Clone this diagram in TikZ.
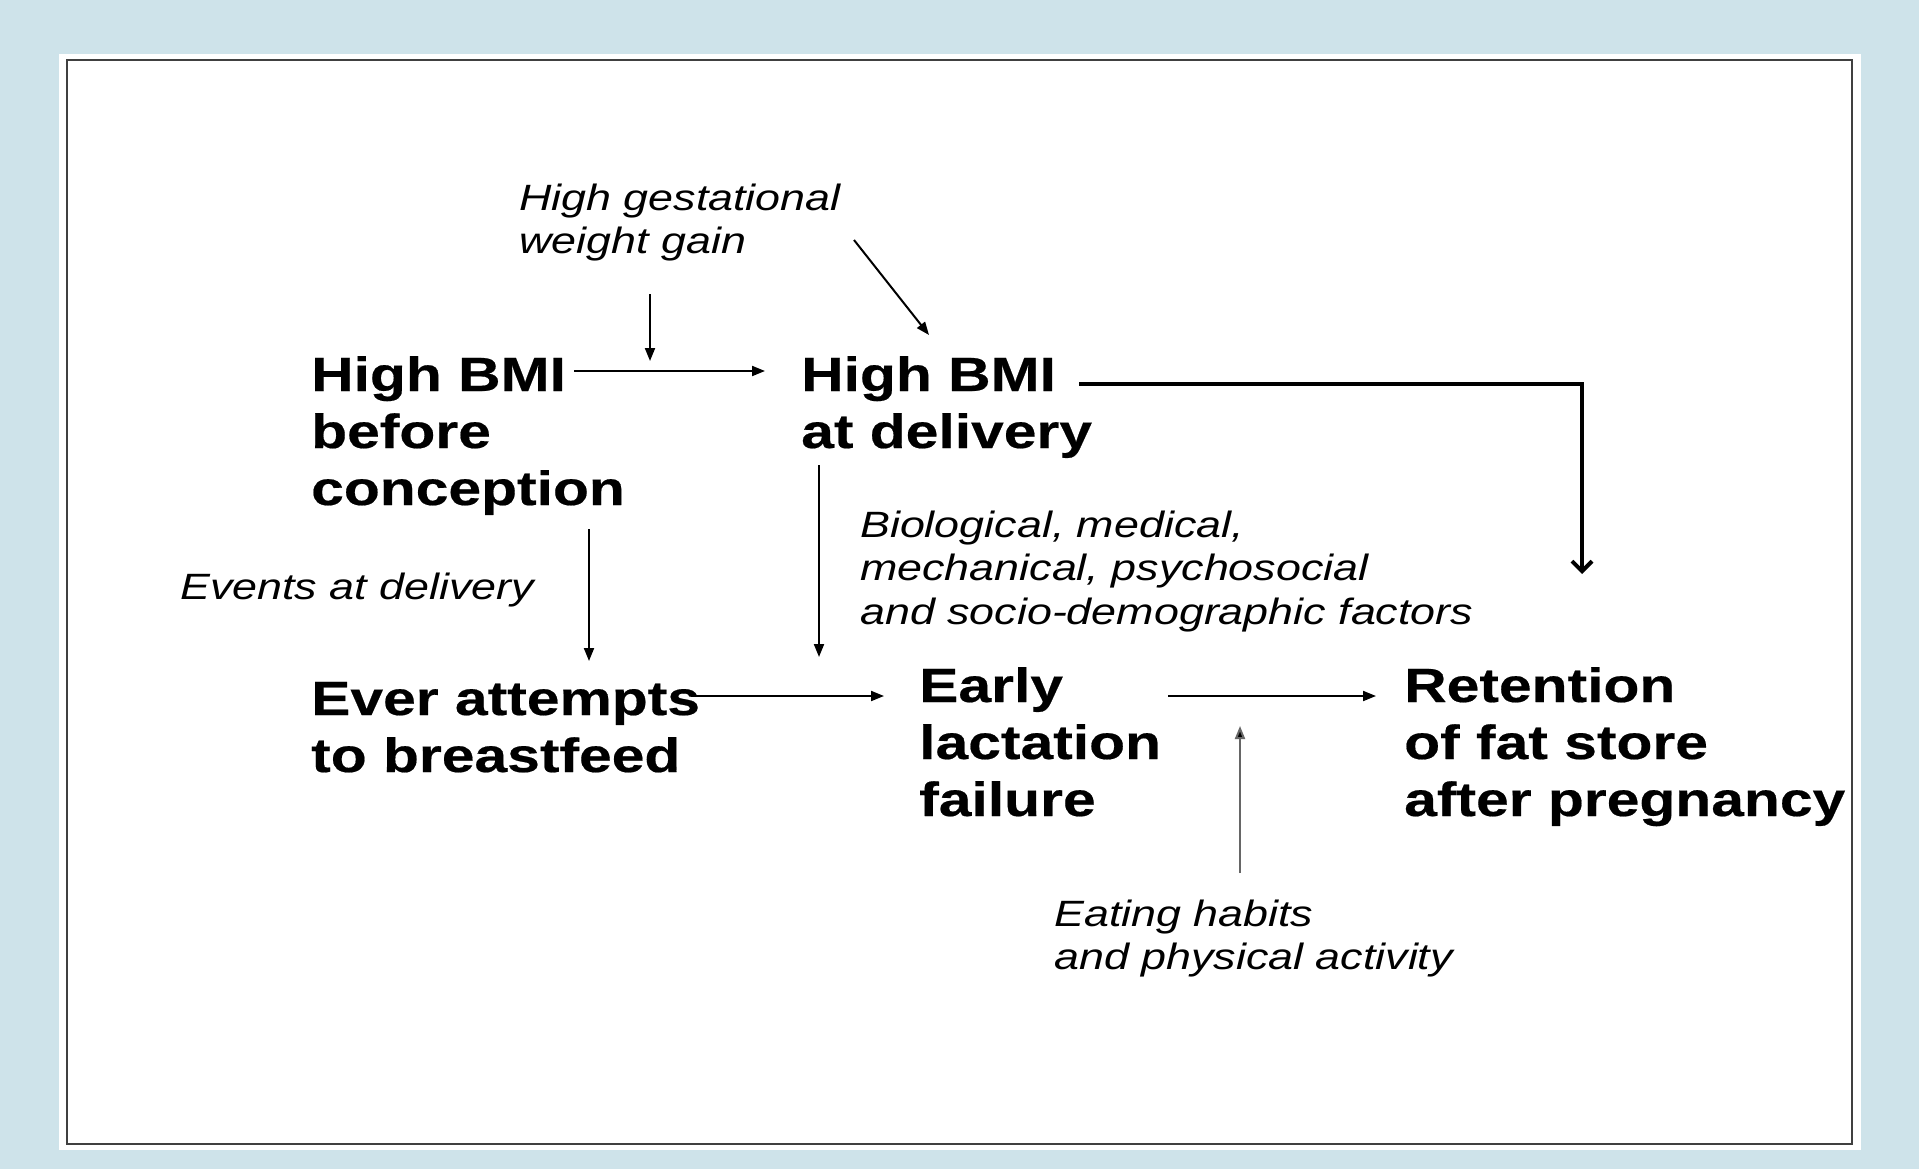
\documentclass[tikz,border=0pt]{standalone}
\usepackage{fontspec}
\setmainfont{Liberation Sans}[FakeStretch=1.225, BoldFeatures={FakeBold=0.4}]
\usetikzlibrary{arrows.meta}
\definecolor{pagebg}{RGB}{206,227,234}
% multi-line nodes are placed by the baseline of their last line
\tikzset{
  bigtext/.style={font=\fontsize{48}{57}\selectfont\bfseries, align=left, inner sep=0pt, anchor=base west},
  notetext/.style={font=\fontsize{36.6}{43.5}\selectfont\itshape, align=left, inner sep=0pt, anchor=base west},
  arr/.style={line width=2pt, -{Triangle[length=13pt,width=10pt]}},
  heavyarr/.style={line width=4.5pt, -{Straight Barb[length=10pt,width=20pt,line width=4pt]}},
  grayarr/.style={arr, draw=black!60, -{Triangle[length=13pt,width=10pt,fill=black]}}
}
\begin{document}
\begin{tikzpicture}[x=1pt,y=-1pt]
  % page and frame
  \fill[pagebg] (0,0) rectangle (1919,1169);
  \fill[white] (59,54) rectangle (1861,1150);
  \draw[line width=2pt, black!75] (67,60) rectangle (1852,1144);

  % main states
  \node[bigtext] (bmipre) at (311,505) {High BMI\\before\\conception};
  \node[bigtext] (bmidel) at (801,448) {High BMI\\at delivery};
  \node[bigtext] (ever)   at (311,772) {Ever attempts\\to breastfeed};
  \node[bigtext] (early)  at (919,816) {Early\\lactation\\failure};
  \node[bigtext] (ret)    at (1404,816) {Retention\\of fat store\\after pregnancy};

  % influencing factors
  \node[notetext] (gwg)    at (519,253.5) {High gestational\\weight gain};
  \node[notetext] (events) at (180,599) {Events at delivery};
  \node[notetext] (bio)    at (860,624) {Biological, medical,\\mechanical, psychosocial\\and socio-demographic factors};
  \node[notetext] (eat)    at (1054,969.5) {Eating habits\\and physical activity};

  % connector end points
  \coordinate (preR)   at (574,371);
  \coordinate (delL)   at (765,371);
  \coordinate (gwgA)   at (650,294);
  \coordinate (gwgB)   at (650,361);
  \coordinate (gwgC)   at (854,240);
  \coordinate (gwgD)   at (929,335);
  \coordinate (delR)   at (1079,384);
  \coordinate (retT)   at (1582,574);
  \coordinate (preB)   at (589,529);
  \coordinate (everT)  at (589,661);
  \coordinate (delB)   at (819,465);
  \coordinate (delD)   at (819,657);
  \coordinate (everR)  at (691,696);
  \coordinate (earlyL) at (884,696);
  \coordinate (earlyR) at (1168,696);
  \coordinate (retL)   at (1376,696);
  \coordinate (eatT)   at (1240,873);
  \coordinate (eatA)   at (1240,726);

  % connectors
  \draw[arr] (preR) -- (delL);
  \draw[arr] (gwgA) -- (gwgB);
  \draw[arr] (gwgC) -- (gwgD);
  \draw[heavyarr] (delR) -| (retT);
  \draw[arr] (preB) -- (everT);
  \draw[arr] (delB) -- (delD);
  \draw[arr] (everR) -- (earlyL);
  \draw[arr] (earlyR) -- (retL);
  \draw[grayarr] (eatT) -- (eatA);
\end{tikzpicture}
\end{document}
